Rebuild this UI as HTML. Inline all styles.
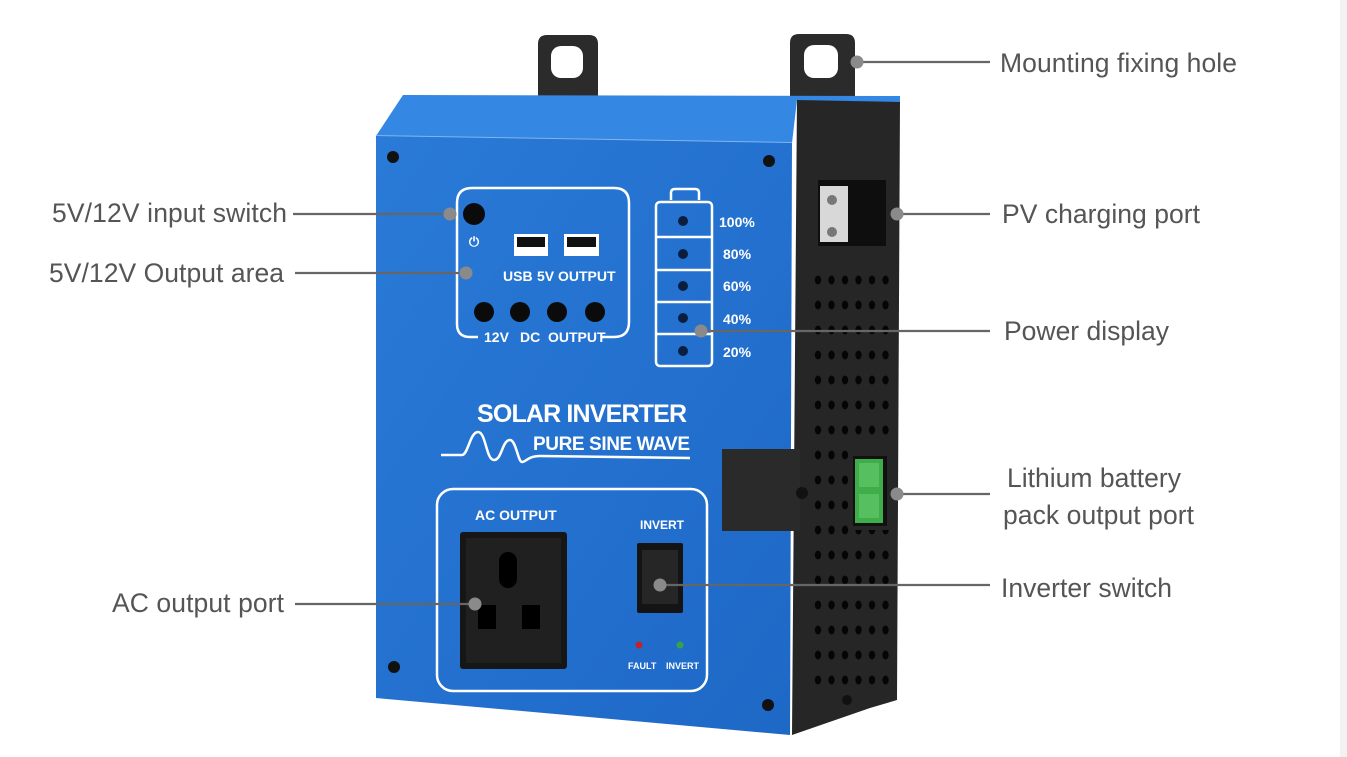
<!DOCTYPE html>
<html><head><meta charset="utf-8"><style>
html,body{margin:0;padding:0;background:#fff;}
svg{display:block;}
.lb{font-family:"Liberation Sans",Arial,sans-serif;font-size:26.5px;fill:#555;}
.w{font-family:"Liberation Sans",Arial,sans-serif;fill:#fff;font-weight:bold;}
</style></head><body>
<svg width="1347" height="757" viewBox="0 0 1347 757" xmlns="http://www.w3.org/2000/svg">
<defs>
<pattern id="holes" x="812" y="272" width="13.5" height="25" patternUnits="userSpaceOnUse">
<ellipse cx="6" cy="8" rx="3.2" ry="4.5" fill="#050505"/>
</pattern>
<linearGradient id="fg" x1="0" y1="0" x2="1" y2="1">
<stop offset="0" stop-color="#2a7ad8"/><stop offset="1" stop-color="#1e68c6"/>
</linearGradient>
</defs>
<rect x="1340" y="0" width="7" height="757" fill="#f2f2f2"/>
<!-- tabs -->
<path d="M538,96 V44 q0,-9 9,-9 h42 q9,0 9,9 V96 Z" fill="#2b2b2b"/>
<rect x="551" y="46" width="32" height="32" rx="10" fill="#fff"/>
<path d="M790,96 V43 q0,-9 9,-9 h47 q9,0 9,9 V96 Z" fill="#2b2b2b"/>
<rect x="804" y="45" width="34" height="33" rx="10" fill="#fff"/>
<!-- black side -->
<path d="M797,98 L900,100 L897,700 L870,708 L792,735 Z" fill="#262626"/>
<rect x="812" y="272" width="80" height="420" fill="url(#holes)"/>
<rect x="850" y="450" width="42" height="80" fill="#262626"/>
<!-- PV port -->
<rect x="818" y="180" width="68" height="66" fill="#0e0e0e"/>
<rect x="820" y="186" width="28" height="56" fill="#d8d8d8"/>
<circle cx="832" cy="200" r="5" fill="#777"/><circle cx="832" cy="232" r="5" fill="#777"/>
<!-- green connector -->
<rect x="853" y="456" width="34" height="70" fill="#111"/>
<rect x="855" y="459" width="28" height="64" fill="#3fae4a"/>
<rect x="859" y="463" width="20" height="24" fill="#56c060"/><rect x="859" y="494" width="20" height="24" fill="#56c060"/>
<circle cx="847" cy="700" r="5" fill="#111"/>
<!-- top face -->
<path d="M403,95 L900,96 L900,102 L797,100 L792,143 L376,136 Z" fill="#3487e2"/>
<path d="M376,136 L792,143" stroke="#7fb5f0" stroke-width="2"/>
<!-- front -->
<path d="M376,136 L792,143 L790,735 L376,698 Z" fill="url(#fg)"/>
<!-- side box -->
<rect x="722" y="449" width="78" height="82" fill="#2a2a2a"/>
<circle cx="802" cy="493" r="6" fill="#111"/>
<!-- screws -->
<g fill="#111"><circle cx="393" cy="157" r="6"/><circle cx="769" cy="161" r="6"/><circle cx="394" cy="667" r="6"/><circle cx="768" cy="705" r="6"/></g>
<!-- control box -->
<path d="M478,337 H470 q-13,0 -13,-13 V203 q0,-15 15,-15 H614 q15,0 15,15 V322 q0,15 -15,15 H601" fill="none" stroke="#fff" stroke-width="2.5"/>
<circle cx="474" cy="214" r="11" fill="#0b0b0b"/>
<text x="474" y="246" class="w" font-size="13" text-anchor="middle">⏻</text>
<rect x="514" y="234" width="34" height="22" fill="#fff"/><rect x="517" y="237" width="28" height="10" fill="#111"/>
<rect x="564" y="234" width="35" height="22" fill="#fff"/><rect x="567" y="237" width="29" height="10" fill="#111"/>
<text x="503" y="281" class="w" font-size="14">USB</text><text x="537" y="281" class="w" font-size="14">5V</text><text x="558" y="281" class="w" font-size="14">OUTPUT</text>
<g fill="#0b0b0b"><circle cx="484" cy="312" r="10"/><circle cx="520" cy="312" r="10"/><circle cx="557" cy="312" r="10"/><circle cx="595" cy="312" r="10"/></g>
<text x="484" y="342" class="w" font-size="14">12V</text><text x="520" y="342" class="w" font-size="14">DC</text><text x="548" y="342" class="w" font-size="14">OUTPUT</text>
<!-- battery -->
<path d="M671,200 V193 q0,-4 4,-4 H695 q4,0 4,4 V200" fill="none" stroke="#fff" stroke-width="2.5"/>
<rect x="656" y="202" width="56" height="164" rx="4" fill="none" stroke="#fff" stroke-width="2.5"/>
<g stroke="#fff" stroke-width="2.5"><line x1="656" y1="237" x2="712" y2="237"/><line x1="656" y1="270" x2="712" y2="270"/><line x1="656" y1="302" x2="712" y2="302"/><line x1="656" y1="334" x2="712" y2="334"/></g>
<g fill="#0a1f40"><circle cx="683" cy="221" r="5"/><circle cx="683" cy="254" r="5"/><circle cx="683" cy="286" r="5"/><circle cx="683" cy="318" r="5"/><circle cx="683" cy="351" r="5"/></g>
<g class="w" font-size="14"><text x="719" y="227">100%</text><text x="723" y="259">80%</text><text x="723" y="291">60%</text><text x="723" y="324">40%</text><text x="723" y="357">20%</text></g>
<text x="477" y="422" class="w" font-size="25" textLength="210">SOLAR INVERTER</text>
<text x="533" y="450" class="w" font-size="19" textLength="157">PURE SINE WAVE</text>
<path d="M441,455 H462 C468,455 470,432 478,432 C486,432 486,460 494,460 C502,460 502,440 510,440 C516,440 518,462 522,462 C526,462 528,456 540,456 L690,458" fill="none" stroke="#fff" stroke-width="2.5"/>
<!-- AC box -->
<rect x="437" y="489" width="270" height="202" rx="16" fill="none" stroke="#fff" stroke-width="2.5"/>
<text x="475" y="520" class="w" font-size="14">AC OUTPUT</text>
<rect x="460" y="532" width="107" height="137" rx="3" fill="#161616"/>
<rect x="466" y="538" width="95" height="125" fill="#202020"/>
<rect x="499" y="552" width="18" height="36" rx="9" fill="#000"/>
<rect x="478" y="605" width="18" height="24" fill="#000"/><rect x="522" y="605" width="18" height="24" fill="#000"/>
<text x="640" y="529" class="w" font-size="12">INVERT</text>
<rect x="637" y="543" width="46" height="70" rx="2" fill="#141414"/>
<rect x="642" y="550" width="36" height="54" fill="#262626"/>
<circle cx="639" cy="645" r="3.5" fill="#c0232a"/><circle cx="680" cy="645" r="3.5" fill="#3aa04a"/>
<text x="628" y="669" class="w" font-size="9">FAULT</text><text x="666" y="669" class="w" font-size="9">INVERT</text>
<!-- leaders -->
<g stroke="#666" stroke-width="2.2">
<line x1="857" y1="62" x2="990" y2="62"/>
<line x1="897" y1="214" x2="990" y2="214"/>
<line x1="701" y1="331" x2="990" y2="331"/>
<line x1="897" y1="494" x2="990" y2="494"/>
<line x1="660" y1="585" x2="990" y2="585"/>
<line x1="293" y1="214" x2="450" y2="214"/>
<line x1="295" y1="273" x2="466" y2="273"/>
<line x1="295" y1="604" x2="475" y2="604"/>
</g>
<g fill="#8a8a8a"><circle cx="857" cy="62" r="6.5"/><circle cx="897" cy="214" r="6.5"/><circle cx="701" cy="331" r="6.5"/><circle cx="897" cy="494" r="6.5"/><circle cx="660" cy="585" r="6.5"/><circle cx="450" cy="214" r="6.5"/><circle cx="466" cy="273" r="6.5"/><circle cx="475" cy="604" r="6.5"/></g>
<text x="1000" y="72" class="lb" textLength="237">Mounting fixing hole</text>
<text x="1002" y="223" class="lb" textLength="198">PV charging port</text>
<text x="1004" y="340" class="lb" textLength="165">Power display</text>
<text x="1007" y="487" class="lb" textLength="174">Lithium battery</text>
<text x="1003" y="524" class="lb" textLength="191">pack output port</text>
<text x="1001" y="597" class="lb" textLength="171">Inverter switch</text>
<text x="52" y="222" class="lb" textLength="235">5V/12V input switch</text>
<text x="49" y="282" class="lb" textLength="235">5V/12V Output area</text>
<text x="112" y="612" class="lb" textLength="172">AC output port</text>
</svg>
</body></html>
